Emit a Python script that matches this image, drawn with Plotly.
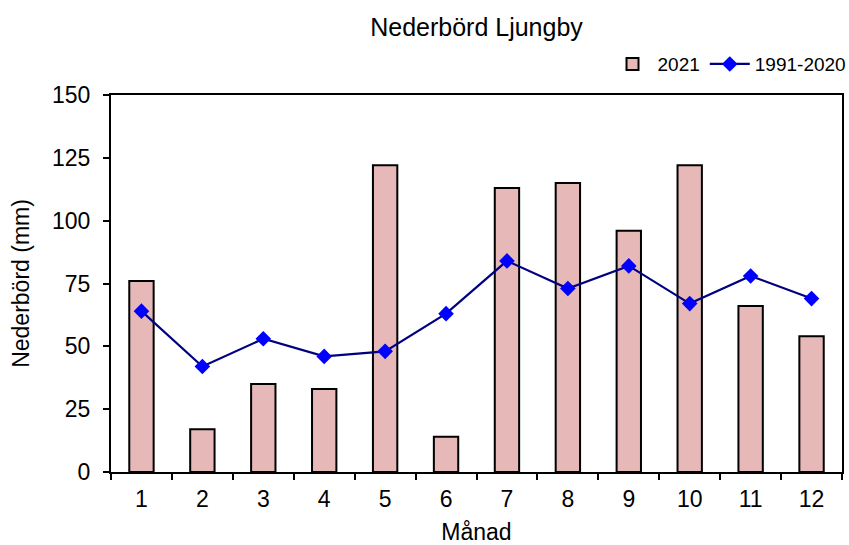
import plotly.graph_objects as go

# Monthly precipitation, Ljungby
months = ["1", "2", "3", "4", "5", "6", "7", "8", "9", "10", "11", "12"]
precip_2021 = [76, 17, 35, 33, 122, 14, 113, 115, 96, 122, 66, 54]
normal_1991_2020 = [64, 42, 53, 46, 48, 63, 84, 73, 82, 67, 78, 69]
y_ticks = [0, 25, 50, 75, 100, 125, 150]

font_family = "Liberation Sans, Arial, sans-serif"

fig = go.Figure()
fig.add_trace(go.Bar(
    x=months, y=precip_2021, name="2021",
    marker=dict(color="#E6B8B7", line=dict(color="black", width=2)),
))
fig.add_trace(go.Scatter(
    x=months, y=normal_1991_2020, name="1991-2020",
    mode="lines+markers",
    line=dict(color="#000080", width=2.2),
    marker=dict(symbol="diamond", size=12, color="#0000FF"),
))

fig.update_layout(
    width=849, height=545,
    margin=dict(l=111, r=7, t=95, b=73, autoexpand=False),
    paper_bgcolor="white", plot_bgcolor="white",
    font=dict(family=font_family, size=23, color="black"),
    title=dict(text="Nederbörd Ljungby", xref="paper", x=0.5, xanchor="center",
               y=0.95, yanchor="middle", font=dict(size=25)),
    bargap=0.6,
    showlegend=True,
    legend=dict(orientation="h", x=1.013, xanchor="right", y=1.082,
                yanchor="middle", font=dict(size=19),
                itemwidth=40, tracegroupgap=0),
)
fig.update_xaxes(
    type="category", range=[-0.5, 11.5], tickson="boundaries",
    ticks="outside", ticklen=6, tickwidth=2, tickcolor="black",
    ticklabelstandoff=5, automargin=False,
    showline=True, linecolor="black", linewidth=2, mirror=True,
    showgrid=False,
    title=dict(text="Månad", font=dict(size=23), standoff=16),
)
fig.update_yaxes(
    range=[0, 150], tickvals=y_ticks,
    ticks="outside", ticklen=6, tickwidth=2, tickcolor="black",
    ticklabelstandoff=8, automargin=False,
    showline=True, linecolor="black", linewidth=2, mirror=True,
    showgrid=False, zeroline=False,
    title=dict(text="Nederbörd (mm)", font=dict(size=23), standoff=16),
)

fig.write_html("out.html")
